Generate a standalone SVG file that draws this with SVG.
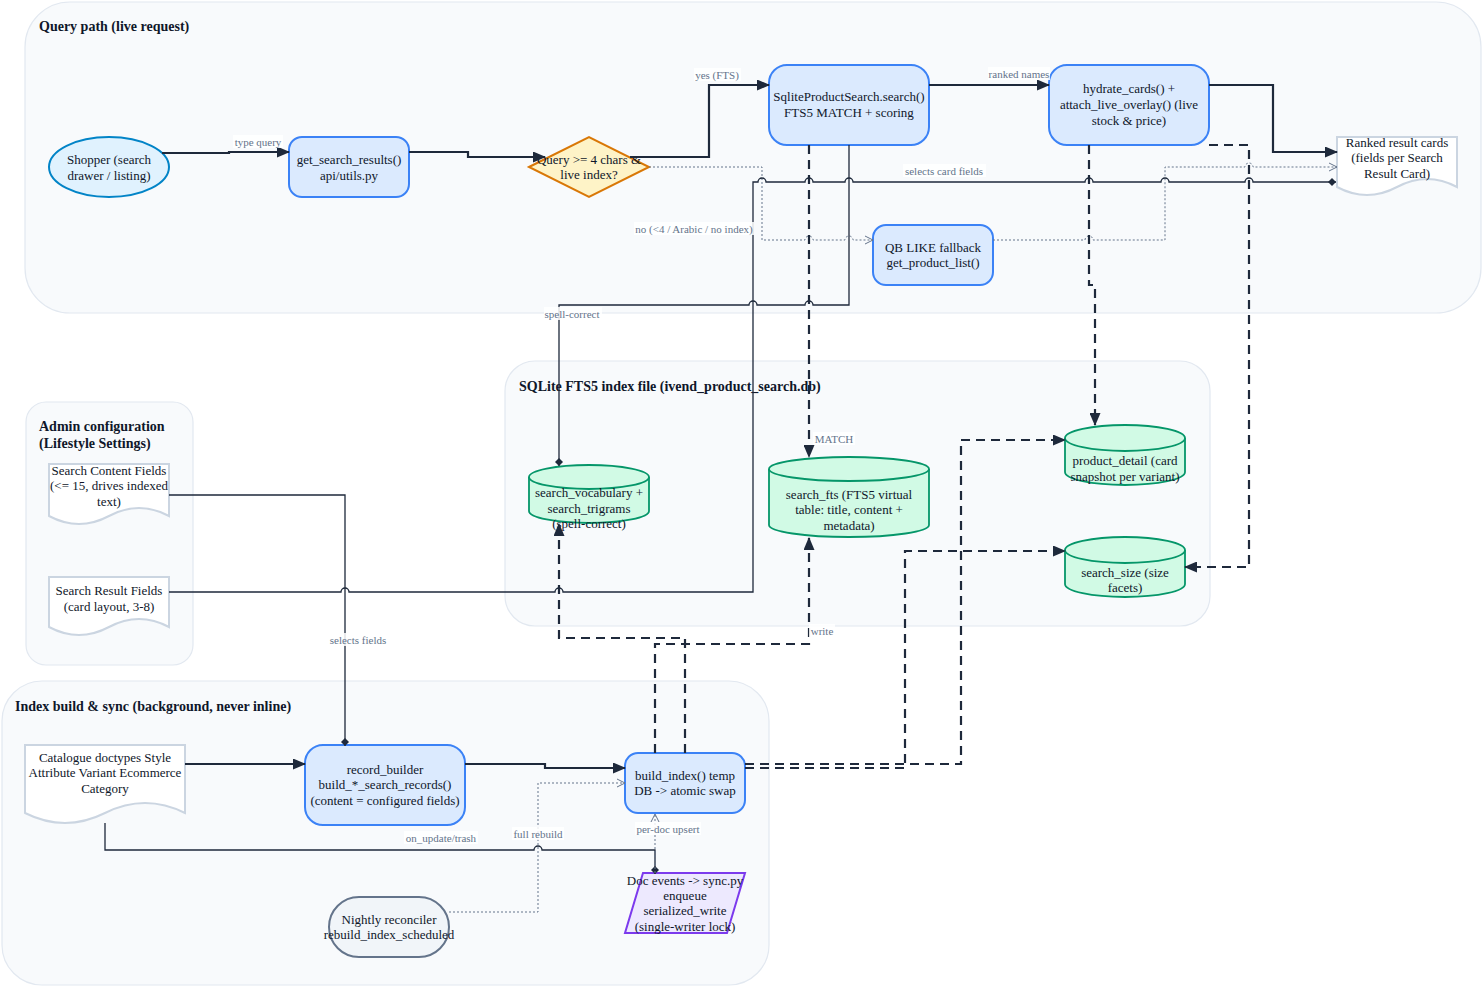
<svg xmlns="http://www.w3.org/2000/svg" width="1484" height="988" viewBox="0 0 1484 988">
<defs>
<style>
text{font-family:"Liberation Serif","Times New Roman",serif;}
.bg{fill:#ffffff;}
.cl{fill:#f8fafc;stroke:#e2e8f0;stroke-width:1.2;}
.ct{font-size:14px;font-weight:bold;fill:#0f172a;}
.proc{fill:#dbeafe;stroke:#3b82f6;stroke-width:2;}
.cyl{fill:#d1fae5;stroke:#059669;stroke-width:1.8;}
.doc{fill:#ffffff;stroke:#cbd5e1;stroke-width:2;}
.t{font-size:13px;fill:#0f172a;text-anchor:middle;}
.lb{font-size:11px;fill:#64748b;text-anchor:middle;}
.lbg{fill:#ffffff;opacity:0.85;}
.em{fill:none;stroke:#1e293b;stroke-width:2.2;}
.et{fill:none;stroke:#1e293b;stroke-width:1.3;}
.ed{fill:none;stroke:#1e293b;stroke-width:2.2;stroke-dasharray:9 6;}
.eo{fill:none;stroke:#64748b;stroke-width:1;stroke-dasharray:2 2;}
</style>
<marker id="arr" markerUnits="userSpaceOnUse" markerWidth="13" markerHeight="11" viewBox="0 0 13 11" refX="12" refY="5.5" orient="auto">
<path d="M0,0 L13,5.5 L0,11 z" fill="#1e293b"/>
</marker>
<marker id="open" markerUnits="userSpaceOnUse" markerWidth="10" markerHeight="10" viewBox="0 0 10 10" refX="9" refY="5" orient="auto">
<path d="M1,1 L9,5 L1,9" fill="none" stroke="#64748b" stroke-width="1"/>
</marker>
<marker id="dia" markerUnits="userSpaceOnUse" markerWidth="10" markerHeight="10" viewBox="0 0 10 10" refX="9" refY="5" orient="auto">
<path d="M1,5 L5,1 L9,5 L5,9 z" fill="#1e293b"/>
</marker>
</defs>
<rect width="1484" height="988" class="bg"/>

<g id="clusters">
<g id="cluster-query"><rect class="cl" x="25" y="2" width="1456" height="311" rx="45"/><text class="ct" x="39" y="31">Query path (live request)</text></g>
<g id="cluster-admin"><rect class="cl" x="26" y="402" width="167" height="263" rx="20"/><text class="ct" x="39" y="431">Admin configuration</text><text class="ct" x="39" y="448">(Lifestyle Settings)</text></g>
<g id="cluster-sqlite"><rect class="cl" x="505" y="361" width="705" height="265" rx="30"/><text class="ct" x="519" y="391">SQLite FTS5 index file (ivend_product_search.db)</text></g>
<g id="cluster-build"><rect class="cl" x="2" y="681" width="767" height="304" rx="40"/><text class="ct" x="15" y="711">Index build &amp; sync (background, never inline)</text></g>
</g>

<g id="nodes">
<g id="shopper"><ellipse cx="109" cy="167" rx="60" ry="30" fill="#e0f2fe" stroke="#0284c7" stroke-width="2"/><text class="t" x="109" y="164">Shopper (search</text><text class="t" x="109" y="180">drawer / listing)</text></g>
<g id="get_search_results"><rect class="proc" x="289" y="137" width="120" height="60" rx="13"/><text class="t" x="349" y="164">get_search_results()</text><text class="t" x="349" y="180">api/utils.py</text></g>
<g id="decision"><polygon points="529,167 589,137 649,167 589,197" fill="#fef3c7" stroke="#d97706" stroke-width="2"/><text class="t" x="589" y="164">Query &gt;= 4 chars &amp;</text><text class="t" x="589" y="179">live index?</text></g>
<g id="sqlite_search"><rect class="proc" x="769" y="65" width="160" height="80" rx="18"/><text class="t" x="849" y="101">SqliteProductSearch.search()</text><text class="t" x="849" y="117">FTS5 MATCH + scoring</text></g>
<g id="hydrate"><rect class="proc" x="1049" y="65" width="160" height="80" rx="18"/><text class="t" x="1129" y="93">hydrate_cards() +</text><text class="t" x="1129" y="109">attach_live_overlay() (live</text><text class="t" x="1129" y="125">stock &amp; price)</text></g>
<g id="ranked_cards"><path class="doc" d="M1337,137 H1457 V187 Q1427,171 1397,187 T1337,187 Z"/><text class="t" x="1397" y="147">Ranked result cards</text><text class="t" x="1397" y="162">(fields per Search</text><text class="t" x="1397" y="178">Result Card)</text></g>
<g id="qb_like"><rect class="proc" x="873" y="225" width="120" height="60" rx="13"/><text class="t" x="933" y="252">QB LIKE fallback</text><text class="t" x="933" y="267">get_product_list()</text></g>
<g id="search_content_fields"><path class="doc" d="M49,464 H169 V516 Q139,500 109,516 T49,516 Z"/><text class="t" x="109" y="475">Search Content Fields</text><text class="t" x="109" y="490">(&lt;= 15, drives indexed</text><text class="t" x="109" y="506">text)</text></g>
<g id="search_result_fields"><path class="doc" d="M49,577 H169 V627 Q139,611 109,627 T49,627 Z"/><text class="t" x="109" y="595">Search Result Fields</text><text class="t" x="109" y="611">(card layout, 3-8)</text></g>
<g id="search_vocabulary"><path class="cyl" d="M529,477 A60,12 0 0 1 649,477 V511 A60,12 0 0 1 529,511 Z"/><path class="cyl" fill="none" d="M529,477 A60,12 0 0 0 649,477"/><text class="t" x="589" y="497">search_vocabulary +</text><text class="t" x="589" y="513">search_trigrams</text><text class="t" x="589" y="528">(spell-correct)</text></g>
<g id="search_fts"><path class="cyl" d="M769,469 A80,12 0 0 1 929,469 V525 A80,12 0 0 1 769,525 Z"/><path class="cyl" fill="none" d="M769,469 A80,12 0 0 0 929,469"/><text class="t" x="849" y="499">search_fts (FTS5 virtual</text><text class="t" x="849" y="514">table: title, content +</text><text class="t" x="849" y="530">metadata)</text></g>
<g id="product_detail"><path class="cyl" d="M1065,438 A60,13 0 0 1 1185,438 V472 A60,13 0 0 1 1065,472 Z"/><path class="cyl" fill="none" d="M1065,438 A60,13 0 0 0 1185,438"/><text class="t" x="1125" y="465">product_detail (card</text><text class="t" x="1125" y="481">snapshot per variant)</text></g>
<g id="search_size"><path class="cyl" d="M1065,550 A60,13 0 0 1 1185,550 V584 A60,13 0 0 1 1065,584 Z"/><path class="cyl" fill="none" d="M1065,550 A60,13 0 0 0 1185,550"/><text class="t" x="1125" y="577">search_size (size</text><text class="t" x="1125" y="592">facets)</text></g>
<g id="catalogue"><path class="doc" d="M25,745 H185 V813 Q145,793 105,813 T25,813 Z"/><text class="t" x="105" y="762">Catalogue doctypes Style</text><text class="t" x="105" y="777">Attribute Variant Ecommerce</text><text class="t" x="105" y="793">Category</text></g>
<g id="record_builder"><rect class="proc" x="305" y="745" width="160" height="80" rx="18"/><text class="t" x="385" y="774">record_builder</text><text class="t" x="385" y="789">build_*_search_records()</text><text class="t" x="385" y="805">(content = configured fields)</text></g>
<g id="build_index"><rect class="proc" x="625" y="753" width="120" height="60" rx="13"/><text class="t" x="685" y="780">build_index() temp</text><text class="t" x="685" y="795">DB -&gt; atomic swap</text></g>
<g id="doc_events"><polygon points="643,873 745,873 727,933 625,933" fill="#ede9fe" stroke="#7c3aed" stroke-width="2"/><text class="t" x="685" y="885">Doc events -&gt; sync.py</text><text class="t" x="685" y="900">enqueue</text><text class="t" x="685" y="915">serialized_write</text><text class="t" x="685" y="931">(single-writer lock)</text></g>
<g id="nightly"><rect x="329" y="897" width="120" height="60" rx="30" fill="#f1f5f9" stroke="#64748b" stroke-width="2"/><text class="t" x="389" y="924">Nightly reconciler</text><text class="t" x="389" y="939">rebuild_index_scheduled</text></g>
</g>

<g id="connectors">
<path class="em" d="M162,153 H229 V152 H289" marker-end="url(#arr)"/>
<path class="em" d="M409,152 H468 V157 H545" marker-end="url(#arr)"/>
<path class="em" d="M630,157 H709 V85 H769" marker-end="url(#arr)"/>
<path class="eo" d="M649,167 H762 V240 H805 a4,4 0 0 1 8,0 H845 a4,4 0 0 1 8,0 H873" marker-end="url(#open)"/>
<path class="em" d="M929,85 H1049" marker-end="url(#arr)"/>
<path class="em" d="M1209,85 H1273 V152 H1337" marker-end="url(#arr)"/>
<path class="eo" d="M993,240 H1085 a4,4 0 0 1 8,0 H1165 V167 H1245 a4,4 0 0 1 8,0 H1337" marker-end="url(#open)"/>
<path class="et" d="M169,592 H341 a4,4 0 0 1 8,0 H555 a4,4 0 0 1 8,0 H753 V182 H758 a4,4 0 0 1 8,0 H805 a4,4 0 0 1 8,0 H845 a4,4 0 0 1 8,0 H1085 a4,4 0 0 1 8,0 H1161 a4,4 0 0 1 8,0 H1245 a4,4 0 0 1 8,0 H1336" marker-end="url(#dia)"/>
<path class="et" d="M849,145 V305 H813 a4,4 0 0 0 -8,0 H757 a4,4 0 0 0 -8,0 H559 V466" marker-end="url(#dia)"/>
<path class="ed" d="M809,145 V457" marker-end="url(#arr)"/>
<path class="ed" d="M1089,145 V285 H1095 V425" marker-end="url(#arr)"/>
<path class="ed" d="M1209,145 H1249 V567 H1185" marker-end="url(#arr)"/>
<path class="et" d="M169,495 H345 V746" marker-end="url(#dia)"/>
<path class="em" d="M185,764 H305" marker-end="url(#arr)"/>
<path class="em" d="M465,764 H545 V768 H625" marker-end="url(#arr)"/>
<path class="et" d="M105,823 V850 H534 a4,4 0 0 1 8,0 H655 V874" marker-end="url(#dia)"/>
<path class="eo" d="M449,912 H538 V783 H625" marker-end="url(#open)"/>
<path class="eo" d="M655,873 V814" marker-end="url(#open)"/>
<path class="ed" d="M685,753 V638 H559 V524" marker-end="url(#arr)"/>
<path class="ed" d="M655,753 V644 H809 V538" marker-end="url(#arr)"/>
<path class="ed" d="M745,764 H961 V440 H1065" marker-end="url(#arr)"/>
<path class="ed" d="M745,768 H905 V551 H1065" marker-end="url(#arr)"/>
</g>

<g id="edge-labels">
<rect class="lbg" x="233" y="135" width="50" height="13"/><text class="lb" x="258" y="146">type query</text>
<rect class="lbg" x="694" y="68" width="47" height="13"/><text class="lb" x="717" y="79">yes (FTS)</text>
<rect class="lbg" x="988" y="67" width="62" height="13"/><text class="lb" x="1019" y="78">ranked names</text>
<rect class="lbg" x="634" y="222" width="120" height="13"/><text class="lb" x="694" y="233">no (&lt;4 / Arabic / no index)</text>
<rect class="lbg" x="903" y="164" width="83" height="13"/><text class="lb" x="944" y="175">selects card fields</text>
<rect class="lbg" x="544" y="307" width="58" height="13"/><text class="lb" x="572" y="318">spell-correct</text>
<rect class="lbg" x="813" y="432" width="42" height="13"/><text class="lb" x="834" y="443">MATCH</text>
<rect class="lbg" x="809" y="624" width="26" height="13"/><text class="lb" x="822" y="635">write</text>
<rect class="lbg" x="328" y="633" width="60" height="13"/><text class="lb" x="358" y="644">selects fields</text>
<rect class="lbg" x="404" y="831" width="74" height="13"/><text class="lb" x="441" y="842">on_update/trash</text>
<rect class="lbg" x="512" y="827" width="52" height="13"/><text class="lb" x="538" y="838">full rebuild</text>
<rect class="lbg" x="635" y="822" width="66" height="13"/><text class="lb" x="668" y="833">per-doc upsert</text>
</g>
</svg>
